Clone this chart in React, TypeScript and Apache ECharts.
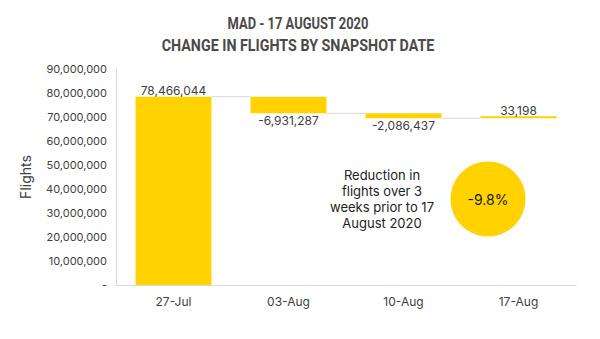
import React, { useEffect, useRef } from "react";
import * as echarts from "echarts";

const categories = ["27-Jul", "03-Aug", "10-Aug", "17-Aug"];
const changes = [78466044, -6931287, -2086437, 33198];
const yTicks = [0, 10000000, 20000000, 30000000, 40000000, 50000000, 60000000, 70000000, 80000000, 90000000];
const titleLines = ["MAD - 17 AUGUST 2020", "CHANGE IN FLIGHTS BY SNAPSHOT DATE"];
const noteLines = ["Reduction in", "flights over 3", "weeks prior to 17", "August 2020"];
const badge = "-9.8%";

const fmt = (v: number) => v.toLocaleString("en-US");

export default function App() {
  const ref = useRef<HTMLDivElement>(null);
  useEffect(() => {
    if (!ref.current) return;
    const chart = echarts.init(ref.current, undefined, { renderer: "svg" });
    const bases: number[] = [];
    const totals: number[] = [];
    let run = 0;
    changes.forEach((c) => {
      const next = run + c;
      bases.push(Math.min(run, next));
      totals.push(next);
      run = next;
    });
    const connectors = totals.slice(0, -1).map((t, i) => [i, t]);
    const yellow = "#FFD200";
    const titleScale = [0.76, 0.84];
    chart.setOption({
      animation: false,
      textStyle: { fontFamily: "Inter" },
      grid: { left: 116, right: 24, top: 69, bottom: 54 },
      xAxis: {
        type: "category",
        data: categories,
        axisTick: { show: false },
        axisLine: { lineStyle: { color: "#d9d9d9" } },
        axisLabel: { color: "#404040", fontSize: 12, margin: 10, fontFamily: "Inter" },
      },
      yAxis: {
        type: "value",
        min: 0,
        max: 90000000,
        interval: 10000000,
        name: "Flights",
        nameLocation: "middle",
        nameGap: 84,
        nameTextStyle: { color: "#404040", fontSize: 14, fontFamily: "Inter" },
        splitLine: { show: false },
        axisTick: { show: false },
        axisLine: { show: true, lineStyle: { color: "#d9d9d9" } },
        axisLabel: {
          color: "#404040",
          fontSize: 11,
          margin: 9,
          fontFamily: "Inter",
          formatter: (v: number) => (yTicks.includes(v) ? (v === 0 ? "-" : fmt(v)) : ""),
        },
      },
      series: [
        {
          type: "bar",
          stack: "w",
          data: bases,
          itemStyle: { color: "transparent" },
          barWidth: "66%",
          silent: true,
        },
        {
          type: "bar",
          stack: "w",
          barWidth: "66%",
          barMinHeight: 2,
          data: changes.map((c, i) => {
            const up = i === 0 || c >= 0;
            return {
              value: Math.abs(c),
              label: {
                show: true,
                position: up ? "top" : "bottom",
                formatter: () => fmt(c),
                color: "#404040",
                fontSize: 12,
                distance: up ? 0 : 1,
                fontFamily: "Inter",
              },
            };
          }),
          itemStyle: { color: yellow },
        },
        {
          type: "custom",
          data: connectors,
          z: 1,
          renderItem: (params: any, api: any) => {
            const idx = api.value(0);
            const lvl = api.value(1);
            const a = api.coord([idx, lvl]);
            const b = api.coord([idx + 1, lvl]);
            const half = api.size([1, 0])[0] * 0.33;
            return {
              type: "line",
              shape: { x1: a[0] + half, y1: a[1], x2: b[0] - half, y2: b[1] },
              style: { stroke: "#d9d9d9", lineWidth: 1 },
            };
          },
        },
      ],
      graphic: [
        ...titleLines.map((t, i) => ({
          type: "text",
          x: 298,
          y: 23 + i * 22.5,
          scaleX: titleScale[i],
          style: {
            text: t,
            align: "center",
            verticalAlign: "middle",
            fontSize: 17,
            fontWeight: "bold",
            fill: "#4a4a4a",
            fontFamily: "Roboto",
          },
        })),
        {
          type: "text",
          x: 382,
          y: 199,
          style: {
            text: noteLines.join("\n"),
            align: "center",
            verticalAlign: "middle",
            fontSize: 13,
            lineHeight: 16,
            fill: "#222",
            fontFamily: "Inter",
          },
        },
        {
          type: "circle",
          shape: { cx: 488, cy: 199, r: 37.5 },
          style: { fill: yellow },
        },
        {
          type: "text",
          x: 488,
          y: 199,
          style: {
            text: badge,
            align: "center",
            verticalAlign: "middle",
            fontSize: 14,
            fill: "#1a1a1a",
            fontFamily: "Inter",
          },
        },
      ],
    });
    return () => chart.dispose();
  }, []);
  return <div ref={ref} style={{ width: 600, height: 339, position: "absolute", left: 0, top: 0 }} />;
}
